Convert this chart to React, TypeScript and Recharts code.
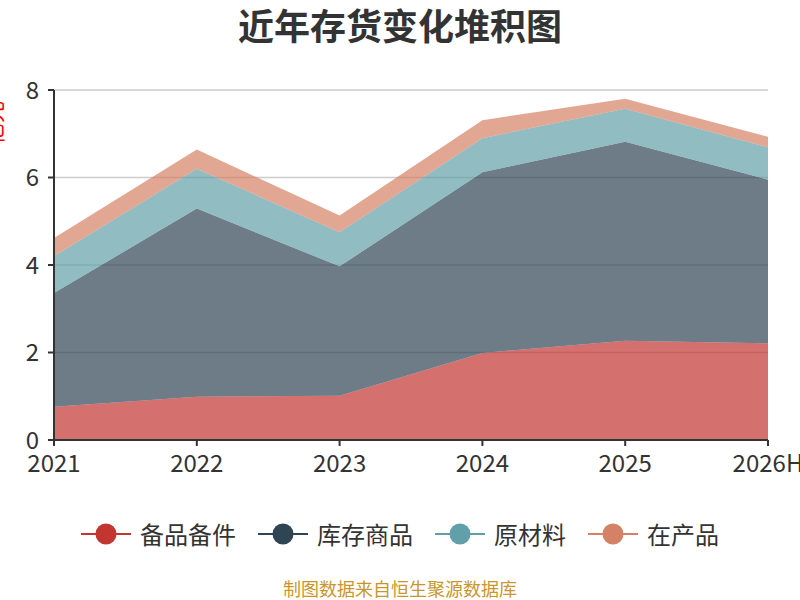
import { AreaChart, Area, XAxis, YAxis, CartesianGrid } from "recharts";

const years = ["2021", "2022", "2023", "2024", "2025", "2026H"];
const spareParts = [0.76, 0.99, 1.01, 1.99, 2.27, 2.21];
const goods = [2.6, 4.3, 2.96, 4.13, 4.55, 3.74];
const rawMaterials = [0.84, 0.91, 0.78, 0.78, 0.75, 0.74];
const wip = [0.42, 0.44, 0.38, 0.41, 0.23, 0.24];
const yTicks = [0, 2, 4, 6, 8];

const SERIES = [
  { key: "spareParts", name: "备品备件", color: "#c23531" },
  { key: "goods", name: "库存商品", color: "#2f4554" },
  { key: "rawMaterials", name: "原材料", color: "#61a0a8" },
  { key: "wip", name: "在产品", color: "#d48265" },
];

const data = years.map((year, i) => ({
  year,
  spareParts: spareParts[i],
  goods: goods[i],
  rawMaterials: rawMaterials[i],
  wip: wip[i],
}));

const FONT = '"Noto Sans CJK SC", "Noto Sans", sans-serif';

function UnitLabel() {
  // axis name sits mostly off the left edge, as in the source
  return (
    <text
      x={2}
      y={101}
      transform="rotate(-90 2 101)"
      textAnchor="end"
      fill="#ff0000"
      fontSize={22}
      fontFamily={FONT}
    >
      亿元
    </text>
  );
}

export default function App() {
  return (
    <div
      style={{
        position: "absolute",
        left: 0,
        top: 0,
        width: 800,
        height: 600,
        background: "#fff",
        fontFamily: FONT,
        overflow: "hidden",
      }}
    >
      <div
        style={{
          position: "absolute",
          top: 1,
          width: 800,
          textAlign: "center",
          fontSize: 36,
          fontWeight: "bold",
          color: "#333",
          lineHeight: "46px",
        }}
      >
        近年存货变化堆积图
      </div>

      <AreaChart width={800} height={600} data={data} margin={{ top: 90, right: 32, left: 0, bottom: 120 }}>
        <CartesianGrid vertical={false} stroke="#ccc" strokeWidth={1.5} />
        <XAxis
          dataKey="year"
          height={40}
          stroke="#333"
          strokeWidth={2}
          tickSize={6}
          tickMargin={9}
          tick={{ fontSize: 24, fill: "#333", fontFamily: FONT }}
          interval={0}
        />
        <YAxis
          width={54}
          domain={[0, 8]}
          ticks={yTicks}
          stroke="#333"
          strokeWidth={2}
          tickSize={6}
          tickMargin={9}
          tick={{ fontSize: 24, fill: "#333", fontFamily: FONT }}
          label={<UnitLabel />}
        />
        {SERIES.map((s) => (
          <Area
            key={s.key}
            type="linear"
            dataKey={s.key}
            name={s.name}
            stackId="inv"
            stroke="none"
            fill={s.color}
            fillOpacity={0.7}
            isAnimationActive={false}
            dot={false}
            activeDot={false}
          />
        ))}
      </AreaChart>

      <div
        style={{
          position: "absolute",
          top: 520,
          width: 800,
          display: "flex",
          justifyContent: "center",
          alignItems: "center",
          gap: 22,
        }}
      >
        {SERIES.map((s) => (
          <div key={s.key} style={{ display: "flex", alignItems: "center" }}>
            <svg width={50} height={26}>
              <line x1={0} y1={13} x2={50} y2={13} stroke={s.color} strokeWidth={2} />
              <circle cx={25} cy={13} r={10.5} fill={s.color} />
            </svg>
            <span style={{ marginLeft: 9, fontSize: 24, color: "#333", lineHeight: "28px" }}>{s.name}</span>
          </div>
        ))}
      </div>

      <div
        style={{
          position: "absolute",
          top: 577,
          width: 800,
          textAlign: "center",
          fontSize: 18,
          color: "#c9962c",
          lineHeight: "22px",
        }}
      >
        制图数据来自恒生聚源数据库
      </div>
    </div>
  );
}
